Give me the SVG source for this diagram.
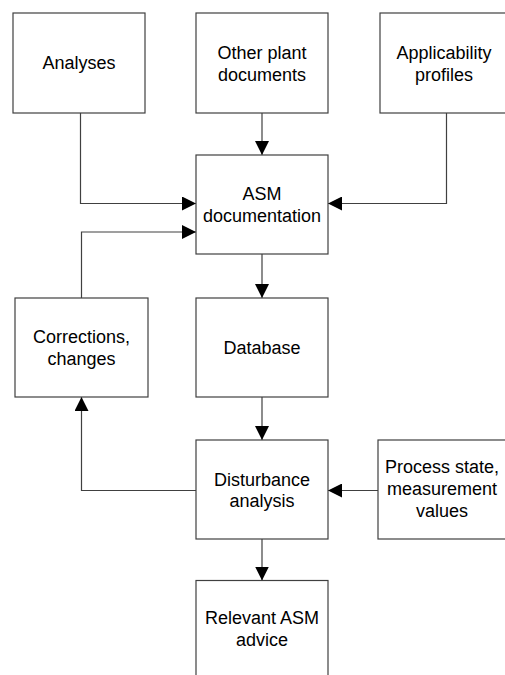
<svg xmlns="http://www.w3.org/2000/svg" width="505" height="675" viewBox="0 0 505 675">
<style>
.box{fill:#fff;stroke:#404040;stroke-width:1.2}
.lbl{font-family:"Liberation Sans",Arial,sans-serif;font-size:18px;fill:#000;text-anchor:middle}
.conn{fill:none;stroke:#404040;stroke-width:1.2}
</style>
<defs>
<marker id="ah" markerUnits="userSpaceOnUse" markerWidth="14" markerHeight="14" refX="14" refY="7" orient="auto" viewBox="0 0 14 14">
<path d="M0,0 L14,7 L0,14 Z" fill="#000"/>
</marker>
</defs>
<rect width="505" height="675" fill="#fff"/>
<g id="connectors">
<path class="conn" d="M80.5,113 V203.5 H196" marker-end="url(#ah)"/>
<path class="conn" d="M262,113 V155" marker-end="url(#ah)"/>
<path class="conn" d="M446.5,113 V203.5 H328" marker-end="url(#ah)"/>
<path class="conn" d="M81.5,298 V232 H196" marker-end="url(#ah)"/>
<path class="conn" d="M262,254 V298" marker-end="url(#ah)"/>
<path class="conn" d="M262,397 V440" marker-end="url(#ah)"/>
<path class="conn" d="M196,490.5 H81.5 V397" marker-end="url(#ah)"/>
<path class="conn" d="M378,490.5 H328" marker-end="url(#ah)"/>
<path class="conn" d="M262,539 V580.5" marker-end="url(#ah)"/>
</g>
<g id="analyses">
<rect class="box" x="13" y="13" width="132" height="100"/>
<text class="lbl" x="79" y="68.5">Analyses</text>
</g>
<g id="other-plant-documents">
<rect class="box" x="196" y="13" width="132" height="100"/>
<text class="lbl" x="262" y="58.5">Other plant</text>
<text class="lbl" x="262" y="80.5">documents</text>
</g>
<g id="applicability-profiles">
<rect class="box" x="380" y="13" width="140" height="100"/>
<text class="lbl" x="444" y="58.5">Applicability</text>
<text class="lbl" x="444" y="80.5">profiles</text>
</g>
<g id="asm-documentation">
<rect class="box" x="196" y="155" width="132" height="99"/>
<text class="lbl" x="262" y="200">ASM</text>
<text class="lbl" x="262" y="221.5">documentation</text>
</g>
<g id="corrections-changes">
<rect class="box" x="15" y="298" width="133" height="99"/>
<text class="lbl" x="81.5" y="343.3">Corrections,</text>
<text class="lbl" x="81.5" y="364.5">changes</text>
</g>
<g id="database">
<rect class="box" x="196" y="298" width="132" height="99"/>
<text class="lbl" x="262" y="354">Database</text>
</g>
<g id="disturbance-analysis">
<rect class="box" x="196" y="440" width="132" height="99"/>
<text class="lbl" x="262" y="485.7">Disturbance</text>
<text class="lbl" x="262" y="506.7">analysis</text>
</g>
<g id="process-state">
<rect class="box" x="378" y="440" width="140" height="99"/>
<text class="lbl" x="442" y="473.3">Process state,</text>
<text class="lbl" x="442" y="495">measurement</text>
<text class="lbl" x="442" y="516.7">values</text>
</g>
<g id="relevant-asm-advice">
<rect class="box" x="196" y="580.5" width="132" height="110"/>
<text class="lbl" x="262" y="624.3">Relevant ASM</text>
<text class="lbl" x="262" y="646">advice</text>
</g>
</svg>
